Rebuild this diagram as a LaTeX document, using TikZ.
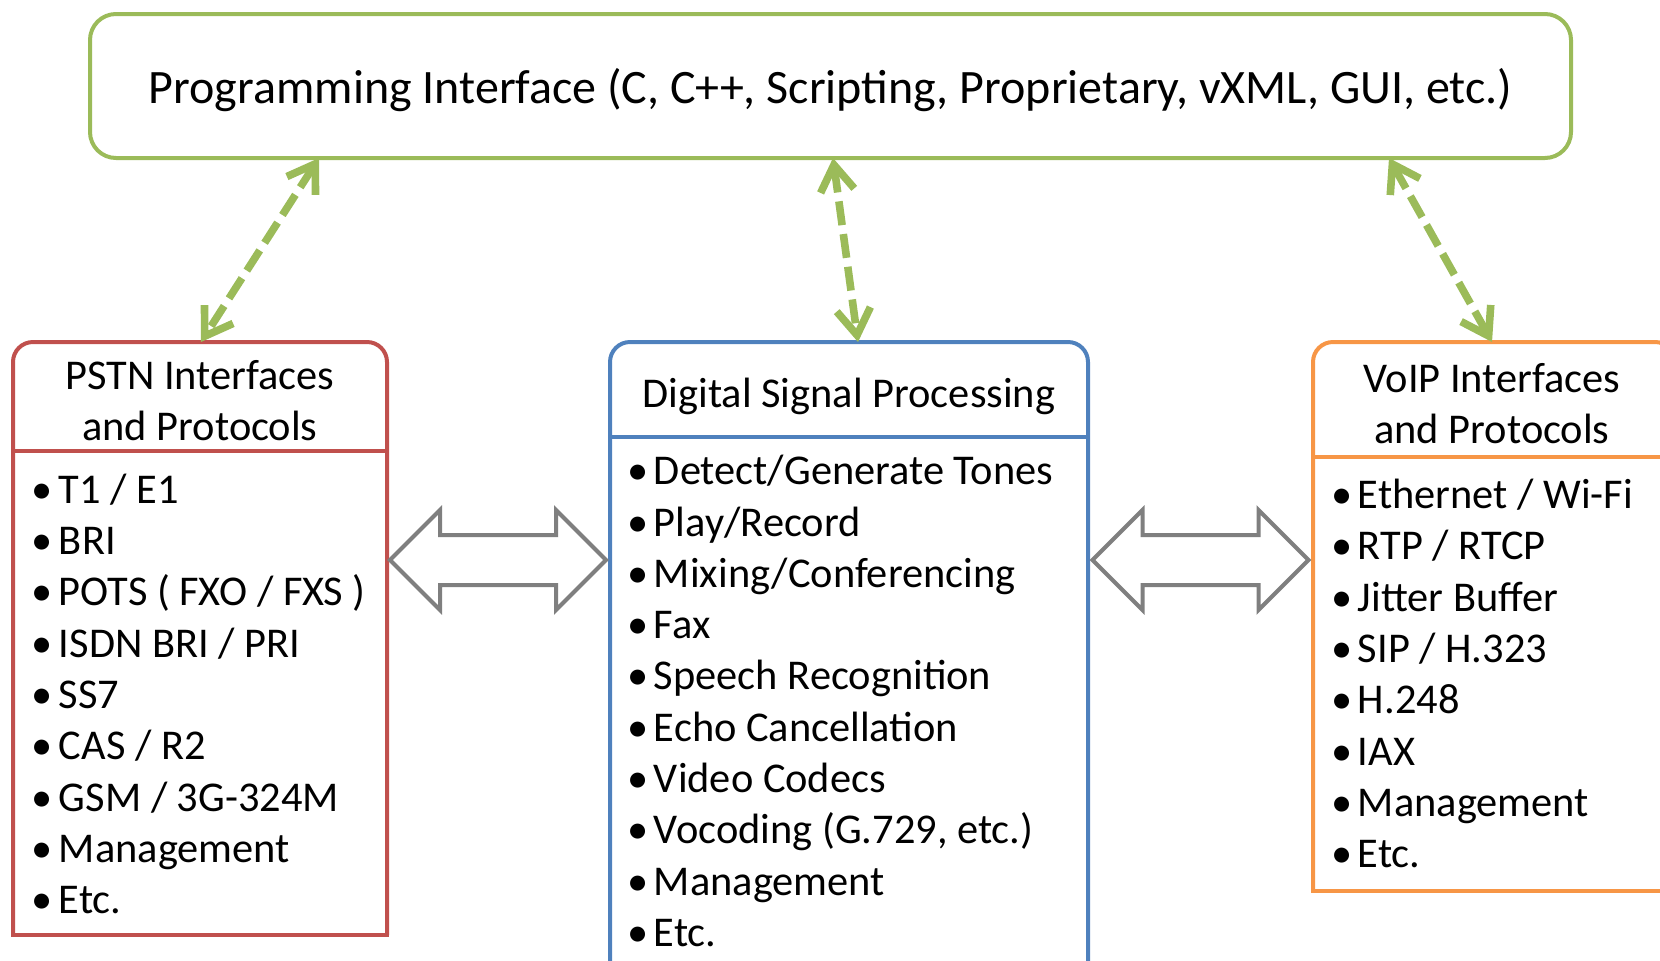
\documentclass[tikz,border=0pt]{standalone}
\usepackage{fontspec}
\setmainfont{Carlito}
\usetikzlibrary{arrows.meta}
\definecolor{progc}{HTML}{9BBB59}
\definecolor{pstnc}{HTML}{C0504D}
\definecolor{dspc}{HTML}{4F81BD}
\definecolor{voipc}{HTML}{F79646}
\definecolor{flowc}{HTML}{7F7F7F}
\newcommand{\bul}{\makebox[13.5pt][l]{•}}

\begin{document}
\begin{tikzpicture}[x=0.5pt, y=-0.5pt,
    every node/.style={font=\fontsize{21.2}{25.65}\selectfont, inner sep=0pt, outer sep=0pt},
    boxline/.style={draw=#1, line width=2pt},
    link/.style={progc, line width=3.8pt, dash pattern=on 12pt off 4.5pt, <->, >={Straight Barb[length=13pt,width=17pt]}},
    flow/.style={draw=flowc, fill=white, line width=2pt, line join=miter}]
    \useasboundingbox (0,0) rectangle (1660,960);
    \clip (0,0) rectangle (1660,960);

    \node [boxline=progc, rounded corners=13pt, minimum width=740.5pt, minimum height=72pt] (prog) at (830.5,86) {};
    \node [font=\fontsize{24}{29}\selectfont] (progtext) at (830.5,90) {Programming Interface (C, C++, Scripting, Proprietary, vXML, GUI, etc.)};

    \node [minimum width=187pt, minimum height=296.5pt] (pstn) at (200,638.5) {};
    \draw [boxline=pstnc, rounded corners=10pt] (pstn.south west) |- (pstn.north east) -- (pstn.south east);
    \draw [boxline=pstnc, line cap=rect] (pstn.south west) -- (pstn.south east);
    \draw [boxline=pstnc] ([yshift=-54.5pt]pstn.north west) -- ([yshift=-54.5pt]pstn.north east);
    \node [align=center] (pstnhead) at (200,400.5) {PSTN Interfaces\\and Protocols};
    \node [align=left, anchor=west] (pstnlist) at (32,694) {\bul T1 / E1\\\bul BRI\\\bul POTS ( FXO / FXS )\\\bul ISDN BRI / PRI\\\bul SS7\\\bul CAS / R2\\\bul GSM / 3G-324M\\\bul Management\\\bul Etc.};

    \node [minimum width=239pt, minimum height=324pt] (dsp) at (849,666) {};
    \draw [boxline=dspc, rounded corners=10pt] (dsp.south west) |- (dsp.north east) -- (dsp.south east);
    \draw [boxline=dspc] ([yshift=-47.5pt]dsp.north west) -- ([yshift=-47.5pt]dsp.north east);
    \node (dsphead) at (849,396) {Digital Signal Processing};
    \node [align=left, anchor=west] (dsplist) at (627,701) {\bul Detect/Generate Tones\\\bul Play/Record\\\bul Mixing/Conferencing\\\bul Fax\\\bul Speech Recognition\\\bul Echo Cancellation\\\bul Video Codecs\\\bul Vocoding (G.729, etc.)\\\bul Management\\\bul Etc.};

    \node [minimum width=181pt, minimum height=274.5pt] (voip) at (1494,616.5) {};
    \draw [boxline=voipc, rounded corners=10pt] (voip.south west) |- (voip.north east) -- (voip.south east);
    \draw [boxline=voipc, line cap=rect] (voip.south west) -- (voip.south east);
    \draw [boxline=voipc] ([yshift=-57.5pt]voip.north west) -- ([yshift=-57.5pt]voip.north east);
    \node [align=center] (voiphead) at (1492,403.5) {VoIP Interfaces\\and Protocols};
    \node [align=left, anchor=west] (voiplist) at (1331,673.5) {\bul Ethernet / Wi-Fi\\\bul RTP / RTCP\\\bul Jitter Buffer\\\bul SIP / H.323\\\bul H.248\\\bul IAX\\\bul Management\\\bul Etc.};

    \draw [link] ([xshift=-255.75pt]prog.south) -- ([xshift=0.5pt]pstn.north);
    \draw [link] ([xshift=1.25pt]prog.south) -- ([xshift=4.5pt]dsp.north);
    \draw [link] ([xshift=279.25pt]prog.south) -- ([xshift=-1pt]voip.north);

    \coordinate (pstndsp) at (498,560);
    \coordinate (dspvoip) at (1200.5,560);
    \draw [flow] (pstndsp) ++(-108,0) -- ++(50,-50) -- ++(0,25) -- ++(116,0) -- ++(0,-25) -- ++(50,50) -- ++(-50,50) -- ++(0,-25) -- ++(-116,0) -- ++(0,25) -- cycle;
    \draw [flow] (dspvoip) ++(-108,0) -- ++(50,-50) -- ++(0,25) -- ++(116,0) -- ++(0,-25) -- ++(50,50) -- ++(-50,50) -- ++(0,-25) -- ++(-116,0) -- ++(0,25) -- cycle;
\end{tikzpicture}
\end{document}
